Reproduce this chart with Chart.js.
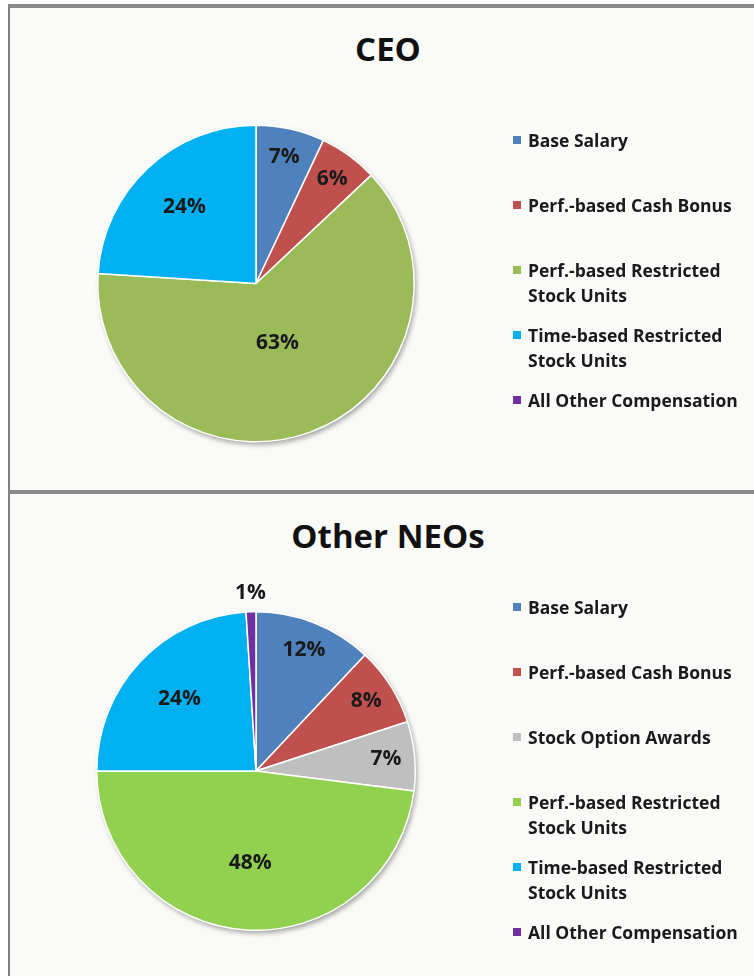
<!DOCTYPE html>
<html>
<head>
<meta charset="utf-8">
<script src="https://cdn.jsdelivr.net/npm/chart.js@4.4.0/dist/chart.umd.min.js"></script>
<style>
body { margin: 0; background: #fff; overflow: hidden; font-family: "Open Sans", sans-serif; }
.panel { position: absolute; left: 8px; width: 780px; background: #fafaf8; border-left: 2px solid #808080; border-top: 4px solid #8a8a8a; box-sizing: border-box; }
#p1 { top: 4px; height: 486px; }
#p2 { top: 490px; height: 500px; }
canvas { position: absolute; left: 0; }
.title { position: absolute; left: 0; width: 776px; text-align: center; font-weight: 700; font-size: 33px; color: #111; line-height: 40px; }
.legend { position: absolute; left: 509px; width: 240px; font-weight: 700; font-size: 17.5px; color: #1a1a1a; line-height: 25px; }
.legend .item { position: relative; height: 65px; padding-left: 19px; }
.legend .box { position: absolute; left: 4px; top: 8px; width: 8px; height: 8px; }
</style>
</head>
<body>
<div class="panel" id="p1"></div>
<div class="panel" id="p2"></div>
<div class="title" style="top:29px">CEO</div>
<div class="title" style="top:516px">Other NEOs</div>
<canvas id="ceoChart" width="754" height="488" style="top:0"></canvas>
<canvas id="neoChart" width="754" height="486" style="top:490px"></canvas>
<div class="legend" id="ceoLegend" style="top:128px"></div>
<div class="legend" id="neoLegend" style="top:595px"></div>
<script>
// CEO pay mix (%)
const ceoLabels = ["Base Salary", "Perf.-based Cash Bonus", "Perf.-based Restricted Stock Units", "Time-based Restricted Stock Units", "All Other Compensation"];
const ceoValues = [7, 6, 63, 24, 0];
const ceoColors = ["#4f81bd", "#c0504d", "#9bbb59", "#00b0f0", "#7030a0"];

// Other NEOs pay mix (%)
const neoLabels = ["Base Salary", "Perf.-based Cash Bonus", "Stock Option Awards", "Perf.-based Restricted Stock Units", "Time-based Restricted Stock Units", "All Other Compensation"];
const neoValues = [12, 8, 7, 48, 24, 1];
const neoColors = ["#4f81bd", "#c0504d", "#bfbfbf", "#92d050", "#00b0f0", "#7030a0"];

// where the % label sits, as a share of the radius (big slices sit nearer the middle)
function labelRadius(v) {
    if (v < 3) return 1.12;
    if (v < 15) return 0.82;
    if (v < 40) return 0.66;
    if (v < 55) return 0.58;
    return 0.4;
}

const pieExtras = {
    id: 'pieExtras',
    beforeDatasetsDraw(chart) {
        // soft drop shadow under the whole pie
        const arc = chart.getDatasetMeta(0).data[0];
        const ctx = chart.ctx;
        ctx.save();
        ctx.shadowColor = 'rgba(0,0,0,0.35)';
        ctx.shadowBlur = 5;
        ctx.shadowOffsetX = 2;
        ctx.shadowOffsetY = 3;
        ctx.fillStyle = '#ffffff';
        ctx.beginPath();
        ctx.arc(arc.x, arc.y, arc.outerRadius, 0, Math.PI * 2);
        ctx.fill();
        ctx.restore();
    },
    afterDatasetsDraw(chart) {
        const ctx = chart.ctx;
        const values = chart.data.datasets[0].data;
        ctx.save();
        ctx.font = 'bold 21px "Open Sans"';
        ctx.fillStyle = '#1a1a1a';
        ctx.textAlign = 'center';
        ctx.textBaseline = 'middle';
        chart.getDatasetMeta(0).data.forEach((a, i) => {
            const v = values[i];
            if (!v) return;
            const mid = (a.startAngle + a.endAngle) / 2;
            const r = a.outerRadius * labelRadius(v);
            ctx.fillText(v + '%', a.x + Math.cos(mid) * r, a.y + Math.sin(mid) * r);
        });
        ctx.restore();
    }
};

function makePie(id, labels, values, colors, padding) {
    return new Chart(document.getElementById(id), {
        type: 'pie',
        data: {
            labels: labels,
            datasets: [{
                data: values,
                backgroundColor: colors,
                borderColor: '#ffffff',
                borderWidth: 1.5
            }]
        },
        options: {
            responsive: false,
            animation: false,
            layout: { padding: padding },
            plugins: {
                legend: { display: false },
                tooltip: { enabled: false }
            }
        },
        plugins: [pieExtras]
    });
}

function makeLegend(id, labels, colors) {
    const el = document.getElementById(id);
    labels.forEach((name, i) => {
        const item = document.createElement('div');
        item.className = 'item';
        item.innerHTML = '<span class="box" style="background:' + colors[i] + '"></span>' + name;
        el.appendChild(item);
    });
}

makePie('ceoChart', ceoLabels, ceoValues, ceoColors, { left: 97, right: 339, top: 124, bottom: 45 });
makePie('neoChart', neoLabels, neoValues, neoColors, { left: 96, right: 338, top: 121, bottom: 45 });
makeLegend('ceoLegend', ceoLabels, ceoColors);
makeLegend('neoLegend', neoLabels, neoColors);
</script>
</body>
</html>
